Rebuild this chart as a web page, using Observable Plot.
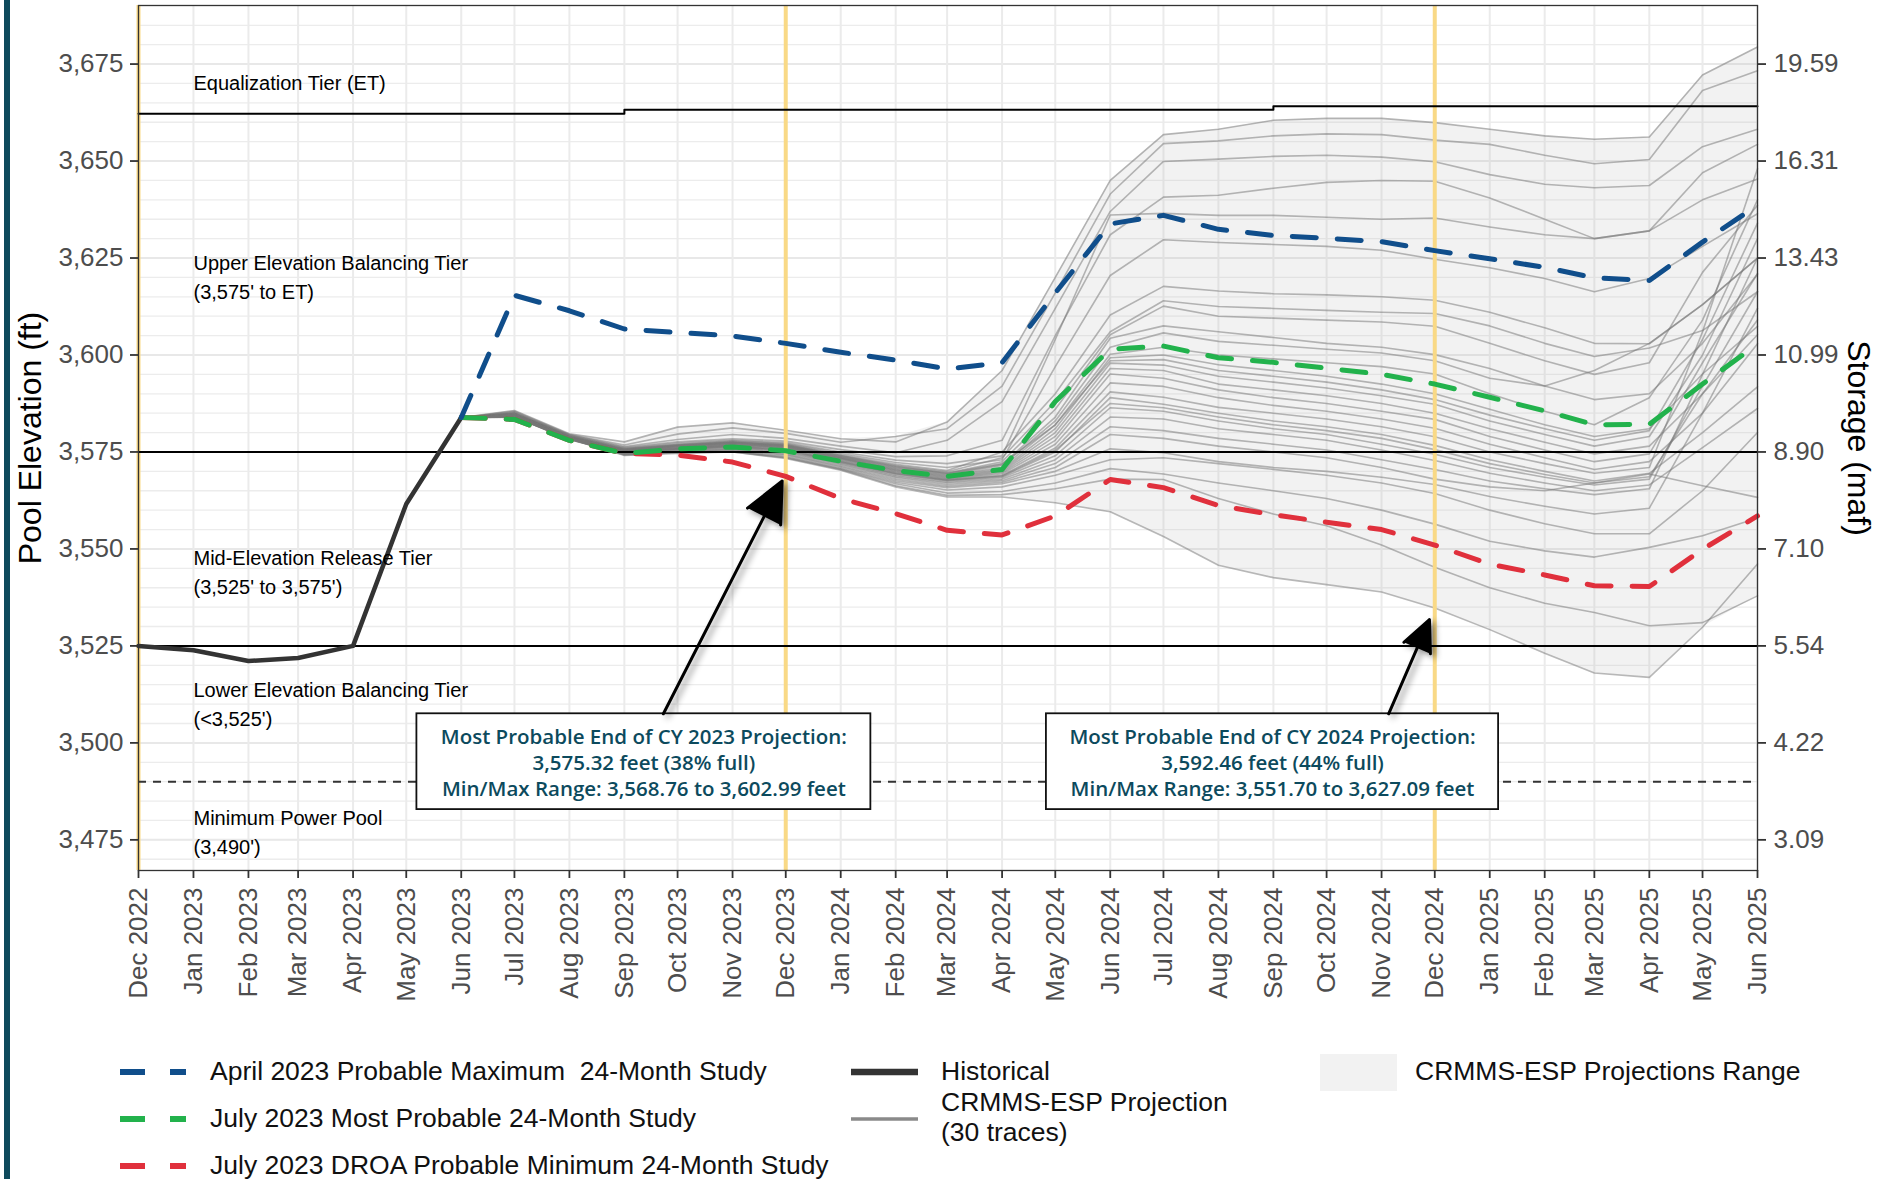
<!DOCTYPE html>
<html>
<head>
<meta charset="utf-8">
<script src="https://cdn.jsdelivr.net/npm/d3@7"></script>
<script src="https://cdn.jsdelivr.net/npm/@observablehq/plot@0.6"></script>
<style>
html, body { margin: 0; padding: 0; background: #fff; overflow: hidden; }
#wrap { position: relative; width: 1883px; height: 1179px; font-family: "Liberation Sans", Arial, sans-serif; }
#chart { position: absolute; left: 0; top: 0; }
#bar { position: absolute; left: 4px; top: 0; width: 6px; height: 1179px; background: #0e4a5c; }
.lg { position: absolute; font-size: 26.5px; color: #111; white-space: pre; transform: translateY(-50%); line-height: 1.12; }
.sw { position: absolute; }
</style>
</head>
<body>
<div id="wrap"><div id="chart"></div><div id="legend"></div><div id="bar"></div></div>
<script>
// ---------------- DATA ----------------
const monthKeys = ["2022-12","2023-01","2023-02","2023-03","2023-04","2023-05","2023-06","2023-07","2023-08","2023-09","2023-10","2023-11","2023-12","2024-01","2024-02","2024-03","2024-04","2024-05","2024-06","2024-07","2024-08","2024-09","2024-10","2024-11","2024-12","2025-01","2025-02","2025-03","2025-04","2025-05","2025-06"];

// Historical pool elevation, Dec 2022 - Jun 2023
const historical = [3525.0, 3523.9, 3521.1, 3521.9, 3525.0, 3561.6, 3583.9];

// Studies, Jun 2023 - Jun 2025
const aprilProbMax = [3583.9,3615.4,3611.4,3606.7,3605.8,3604.9,3603.0,3600.7,3598.7,3596.4,3598.0,3616.0,3633.8,3636.0,3632.4,3630.8,3630.1,3629.2,3626.9,3624.8,3622.6,3619.9,3619.2,3629.1,3638.6];
const julyMostProb = [3583.9,3583.4,3578.0,3574.6,3575.8,3576.3,3575.3,3572.6,3570.2,3568.7,3570.5,3588.0,3601.5,3602.3,3599.3,3598.1,3596.6,3595.0,3592.5,3589.1,3585.6,3582.0,3582.1,3592.5,3602.8];
const julyDroaMin = [3583.9,3583.4,3578.0,3574.6,3574.2,3572.4,3568.7,3563.0,3559.1,3554.8,3553.6,3558.5,3567.9,3565.8,3561.2,3558.8,3556.9,3555.0,3551.0,3546.1,3543.3,3540.5,3540.3,3549.9,3558.5];

// CRMMS-ESP projection traces (30), Jun 2023 - Jun 2025
const espTraces = [
[3583.9,3585.7,3579.7,3577.6,3581.4,3582.5,3580.6,3578.4,3577.6,3582.7,3596.0,3620.0,3645.0,3656.8,3658.2,3660.5,3661.0,3661.0,3659.9,3658.2,3656.5,3655.6,3656.2,3672.2,3679.4],
[3583.9,3585.5,3579.5,3576.8,3579.6,3581.2,3579.8,3577.5,3579.0,3581.0,3592.0,3616.0,3641.5,3654.5,3655.2,3656.5,3657.0,3656.8,3655.4,3654.3,3651.5,3649.3,3650.4,3668.2,3673.3],
[3583.9,3585.3,3579.4,3576.4,3578.2,3579.5,3578.5,3576.5,3574.8,3578.0,3588.0,3612.0,3637.0,3649.9,3650.5,3651.2,3651.5,3651.0,3649.8,3646.5,3644.0,3643.1,3643.7,3653.7,3658.2],
[3583.9,3585.2,3579.3,3576.2,3577.6,3578.4,3577.8,3575.6,3573.8,3574.0,3578.0,3605.0,3631.0,3640.7,3641.2,3643.0,3644.5,3645.0,3644.8,3640.5,3635.0,3630.0,3632.0,3647.0,3654.3],
[3583.9,3585.0,3579.2,3576.0,3577.3,3578.1,3577.4,3575.0,3572.9,3572.0,3574.0,3604.0,3636.1,3636.5,3636.0,3636.0,3635.5,3635.0,3635.3,3633.0,3631.0,3630.0,3632.0,3640.0,3645.4],
[3583.9,3585.0,3579.1,3575.9,3577.0,3577.9,3577.2,3574.6,3572.3,3571.0,3573.0,3597.0,3620.5,3629.7,3629.0,3628.5,3628.0,3627.0,3624.7,3622.5,3619.7,3616.3,3619.7,3628.0,3636.4],
[3583.9,3584.9,3579.0,3575.8,3576.9,3577.7,3577.0,3574.3,3571.8,3570.2,3575.0,3590.0,3610.3,3617.7,3616.5,3615.8,3615.5,3615.0,3614.1,3611.0,3607.0,3603.0,3602.9,3613.0,3625.0],
[3583.9,3584.9,3579.0,3575.7,3576.8,3577.6,3576.9,3574.1,3571.5,3569.9,3573.5,3588.0,3606.0,3614.0,3612.5,3612.0,3611.5,3611.0,3610.7,3607.5,3603.0,3599.6,3601.8,3606.3,3616.3],
[3583.9,3584.8,3578.9,3575.6,3576.7,3577.5,3576.7,3573.9,3571.2,3569.6,3572.5,3586.0,3605.2,3612.6,3610.0,3609.5,3609.0,3608.5,3607.4,3603.0,3598.5,3595.0,3598.0,3621.3,3638.6],
[3583.9,3584.8,3578.9,3575.5,3576.6,3577.4,3576.6,3573.7,3571.0,3569.4,3571.8,3584.0,3604.3,3607.5,3606.0,3604.5,3603.0,3602.0,3600.1,3596.5,3592.0,3588.5,3590.0,3603.0,3620.8],
[3583.9,3584.7,3578.8,3575.5,3576.5,3577.3,3576.5,3573.6,3570.8,3569.2,3571.5,3583.0,3602.0,3605.7,3603.5,3602.5,3601.5,3600.5,3598.5,3594.0,3592.0,3596.0,3603.0,3613.0,3625.0],
[3583.9,3584.7,3578.8,3575.4,3576.4,3577.2,3576.4,3573.5,3570.6,3569.0,3571.0,3582.0,3600.2,3602.0,3600.0,3599.0,3598.0,3597.0,3595.1,3590.0,3585.5,3582.0,3589.0,3609.0,3640.0],
[3583.9,3584.6,3578.7,3575.4,3576.3,3577.1,3576.3,3573.4,3570.4,3568.8,3570.6,3581.0,3599.3,3600.0,3597.5,3596.0,3594.5,3592.5,3590.0,3586.0,3582.0,3579.0,3581.0,3595.1,3607.4],
[3583.9,3584.6,3578.7,3575.3,3576.2,3577.0,3576.2,3573.3,3570.3,3568.6,3570.3,3580.0,3597.9,3597.4,3594.5,3593.0,3591.5,3589.5,3587.3,3583.0,3579.5,3576.5,3579.0,3600.0,3630.0],
[3583.9,3584.5,3578.6,3575.3,3576.1,3576.9,3576.1,3573.2,3570.1,3568.4,3570.0,3579.0,3596.5,3596.0,3592.5,3591.0,3589.5,3587.5,3585.0,3581.0,3577.5,3574.5,3576.5,3590.0,3605.2],
[3583.9,3584.5,3578.6,3575.2,3576.0,3576.8,3576.0,3573.0,3569.9,3568.2,3569.7,3578.0,3595.1,3594.0,3591.0,3589.0,3587.5,3585.5,3583.4,3579.0,3575.5,3572.5,3574.5,3598.0,3621.0],
[3583.9,3584.4,3578.5,3575.1,3575.9,3576.7,3575.8,3572.8,3569.7,3568.0,3569.4,3577.0,3592.8,3591.9,3589.0,3587.0,3585.5,3583.5,3581.1,3577.0,3573.5,3570.5,3572.5,3585.0,3602.9],
[3583.9,3584.4,3578.5,3575.0,3575.8,3576.5,3575.6,3572.6,3569.5,3567.8,3569.0,3576.0,3590.5,3589.1,3586.5,3585.0,3583.5,3581.5,3578.9,3575.0,3572.0,3569.5,3571.0,3606.0,3648.0],
[3583.9,3584.3,3578.4,3575.0,3575.7,3576.4,3575.4,3572.4,3569.3,3567.6,3568.7,3575.0,3589.0,3587.3,3585.0,3583.0,3581.5,3579.5,3576.7,3573.0,3570.0,3567.5,3569.5,3580.0,3591.8],
[3583.9,3584.3,3578.4,3574.9,3575.6,3576.2,3575.2,3572.2,3569.0,3567.3,3568.4,3574.0,3586.4,3585.5,3583.0,3581.0,3579.5,3577.0,3574.4,3571.0,3568.5,3566.5,3568.0,3592.0,3616.3],
[3583.9,3584.2,3578.4,3574.8,3575.5,3576.0,3575.0,3572.0,3568.7,3567.0,3568.0,3573.0,3584.0,3583.5,3581.0,3579.5,3578.0,3575.5,3572.8,3569.5,3567.0,3565.0,3566.5,3576.1,3586.2],
[3583.9,3584.2,3578.3,3574.7,3575.3,3575.8,3574.7,3571.7,3568.4,3566.6,3567.6,3572.0,3581.5,3580.5,3578.5,3577.0,3575.5,3573.0,3570.5,3567.5,3565.5,3564.0,3565.5,3595.0,3625.0],
[3583.9,3584.1,3578.3,3574.6,3575.2,3575.6,3574.4,3571.4,3568.0,3566.2,3567.2,3571.0,3579.5,3578.5,3576.5,3575.0,3573.5,3571.0,3568.0,3566.0,3565.0,3567.0,3569.3,3566.3,3563.3],
[3583.9,3584.1,3578.2,3574.5,3575.1,3575.4,3574.2,3571.1,3567.6,3565.8,3566.8,3570.0,3575.8,3574.8,3572.5,3571.0,3570.0,3568.5,3566.6,3563.5,3561.0,3559.0,3560.5,3585.0,3612.0],
[3583.9,3584.0,3578.2,3574.4,3575.0,3575.2,3573.9,3570.8,3567.2,3565.2,3566.0,3569.0,3573.0,3573.5,3572.0,3570.5,3569.0,3567.0,3564.3,3560.0,3556.5,3553.9,3553.9,3565.0,3580.0],
[3583.9,3584.0,3578.5,3574.3,3574.9,3575.1,3573.6,3570.6,3566.8,3564.4,3564.8,3567.0,3570.7,3569.3,3567.0,3565.0,3563.0,3560.0,3556.4,3552.0,3549.5,3547.9,3550.4,3553.4,3558.0],
[3583.9,3584.0,3578.4,3574.2,3574.8,3575.0,3573.5,3570.5,3566.3,3563.8,3564.0,3565.5,3568.0,3567.9,3563.0,3559.0,3556.0,3551.0,3545.3,3540.0,3536.0,3533.6,3530.2,3531.0,3537.9],
[3583.9,3584.0,3578.4,3574.1,3574.6,3575.0,3573.3,3570.3,3566.0,3563.4,3563.4,3561.9,3559.6,3553.2,3545.8,3542.6,3540.8,3538.9,3534.8,3529.2,3523.1,3518.0,3516.9,3529.8,3546.1],
[3583.9,3584.6,3578.7,3575.6,3576.6,3577.4,3576.8,3574.0,3571.3,3569.5,3572.0,3582.0,3598.5,3598.8,3596.0,3594.5,3593.0,3591.0,3588.5,3584.5,3581.0,3578.0,3580.5,3604.0,3634.0],
[3583.9,3584.3,3578.5,3575.1,3575.8,3576.5,3575.5,3572.5,3569.4,3567.7,3568.8,3575.5,3587.5,3586.4,3584.0,3582.0,3580.5,3578.5,3575.6,3572.0,3569.2,3567.0,3568.6,3590.0,3609.0]
];

// Axis ticks
const elevTicks = [3475, 3500, 3525, 3550, 3575, 3600, 3625, 3650, 3675];
const storageLabels = ["3.09", "4.22", "5.54", "7.10", "8.90", "10.99", "13.43", "16.31", "19.59"];

// Operating tiers
const tierLineElev = [3575, 3525];
const minPowerPoolElev = [3490];
const etStepMonths = ["2022-12", "2023-09", "2024-09", "2025-06"];
const etStepElev = [3662.2, 3663.2, 3664.1, 3664.1];
const tierLabelText = ["Equalization Tier (ET)", "Upper Elevation Balancing Tier", "(3,575' to ET)", "Mid-Elevation Release Tier", "(3,525' to 3,575')", "Lower Elevation Balancing Tier", "(<3,525')", "Minimum Power Pool", "(3,490')"];
const tierLabelElev = [3670.0, 3623.6, 3616.1, 3547.5, 3540.0, 3513.6, 3505.9, 3480.4, 3473.1];
const tierLabelMonth = "2023-01";

// End of calendar year markers
const calendarYearEnds = ["2022-12", "2023-12", "2024-12"];

// Annotations
const annoText = [
  "Most Probable End of CY 2023 Projection:\n3,575.32 feet (38% full)\nMin/Max Range: 3,568.76 to 3,602.99 feet",
  "Most Probable End of CY 2024 Projection:\n3,592.46 feet (44% full)\nMin/Max Range: 3,551.70 to 3,627.09 feet"
];
const annoBoxStart = ["2023-05-07", "2024-04-26"];
const annoBoxEnd = ["2024-01-18", "2025-01-06"];
const annoBoxLow = 3482.8, annoBoxHigh = 3507.5;
const arrowFrom = [["2023-09-23", 3507.5], ["2024-11-05", 3507.5]];
const arrowTo = [["2023-11-29", 3567.5], ["2024-11-28", 3531.8]];

// Legend
const studyLabels = ["April 2023 Probable Maximum  24-Month Study", "July 2023 Most Probable 24-Month Study", "July 2023 DROA Probable Minimum 24-Month Study"];
const studyColors = ["#104e8b", "#22b24c", "#e0303c"];
const traceLegendLabels = ["Historical", "CRMMS-ESP Projection\n(30 traces)"];
const rangeLegendLabel = "CRMMS-ESP Projections Range";

// ---------------- BUILD ----------------
const pm = d3.utcParse("%Y-%m");
const pd = d3.utcParse("%Y-%m-%d");
const monthDates = monthKeys.map(pm);
const projDates = monthDates.slice(6);

const histRows = historical.map((v, i) => ({date: monthDates[i], value: v}));
const studyRows = [aprilProbMax, julyMostProb, julyDroaMin].map(s => s.map((v, i) => ({date: projDates[i], value: v})));
const traceRows = espTraces.flatMap((t, k) => t.map((v, i) => ({trace: k, date: projDates[i], value: v})));
const rangeRows = projDates.map((d, i) => ({date: d, lo: d3.min(espTraces, t => t[i]), hi: d3.max(espTraces, t => t[i])}));
const etRows = etStepMonths.map((m, i) => ({date: pm(m), value: etStepElev[i]}));
const tierLabels = tierLabelText.map((t, i) => ({text: t, date: pm(tierLabelMonth), value: tierLabelElev[i]}));
const annos = annoText.map((t, i) => {
  const a = pd(annoBoxStart[i]), b = pd(annoBoxEnd[i]);
  return {text: t, x1: a, x2: b, xm: new Date((+a + +b) / 2), y1: annoBoxLow, y2: annoBoxHigh, ym: (annoBoxLow + annoBoxHigh) / 2};
});
const arrows = arrowFrom.map((f, i) => ({x1: pd(f[0]), y1: f[1], x2: pd(arrowTo[i][0]), y2: arrowTo[i][1]}));
const minorGrid = d3.range(3470, 3690, 5);
const fmtMonth = d3.utcFormat("%b %Y");

const dash = "24,21";
const chart = Plot.plot({
  width: 1883,
  height: 1030,
  marginLeft: 138,
  marginRight: 126,
  marginTop: 5,
  marginBottom: 160,
  style: {fontFamily: '"Liberation Sans", Arial, sans-serif', background: "white", overflow: "visible"},
  x: {type: "utc", domain: [monthDates[0], monthDates[monthDates.length - 1]]},
  y: {domain: [3467.1, 3690.1]},
  marks: [
    Plot.ruleY(minorGrid, {stroke: "#ececec", strokeWidth: 1.3}),
    Plot.ruleY(elevTicks, {stroke: "#e8e8e8", strokeWidth: 2}),
    Plot.ruleX(monthDates, {stroke: "#ebebeb", strokeWidth: 2}),
    Plot.areaY(rangeRows, {x: "date", y1: "lo", y2: "hi", fill: "#b8b8b8", fillOpacity: 0.18}),
    Plot.line(traceRows, {x: "date", y: "value", z: "trace", stroke: "#777", strokeOpacity: 0.52, strokeWidth: 1.6}),
    Plot.ruleX(calendarYearEnds.map(pm), {stroke: "#f9d986", strokeWidth: 4}),
    Plot.ruleY(tierLineElev, {stroke: "#000", strokeWidth: 2}),
    Plot.ruleY(minPowerPoolElev, {stroke: "#333", strokeWidth: 2, strokeDasharray: "8,7"}),
    Plot.line(etRows, {x: "date", y: "value", curve: "step-after", stroke: "#000", strokeWidth: 2}),
    Plot.line(histRows, {x: "date", y: "value", stroke: "#333", strokeWidth: 4.5}),
    Plot.line(studyRows[2], {x: "date", y: "value", stroke: studyColors[2], strokeWidth: 5, strokeDasharray: dash}),
    Plot.line(studyRows[1], {x: "date", y: "value", stroke: studyColors[1], strokeWidth: 5, strokeDasharray: dash}),
    Plot.line(studyRows[0], {x: "date", y: "value", stroke: studyColors[0], strokeWidth: 5, strokeDasharray: dash}),
    Plot.text(tierLabels, {x: "date", y: "value", text: "text", textAnchor: "start", fontSize: 20, fill: "#000"}),
    Plot.rect(annos, {x1: "x1", x2: "x2", y1: "y1", y2: "y2", fill: "white", stroke: "#111", strokeWidth: 1.8}),
    Plot.text(annos, {x: "xm", y: "ym", text: "text", fill: "#0c4a5d", fontSize: 20.5, fontWeight: 600, fontFamily: '"Open Sans", "Noto Sans", sans-serif', lineHeight: 1.27}),
    Plot.arrow(arrows, {x1: "x1", y1: "y1", x2: "x2", y2: "y2", stroke: "#000", strokeWidth: 3, headLength: 22, headAngle: 50}),
    Plot.frame({stroke: "#333", strokeWidth: 1.3}),
    Plot.axisY(elevTicks, {anchor: "left", tickSize: 8, tickPadding: 7, tickFormat: d3.format(","), fontSize: 26, stroke: "#333", fill: "#4d4d4d", strokeWidth: 1.8, label: null}),
    Plot.axisY(elevTicks, {anchor: "right", tickSize: 8, tickPadding: 8, tickFormat: d => storageLabels[elevTicks.indexOf(d)], fontSize: 26, stroke: "#333", fill: "#4d4d4d", strokeWidth: 1.8, label: null}),
    Plot.axisX(monthDates, {anchor: "bottom", tickSize: 8, tickPadding: 9, tickRotate: -90, tickFormat: fmtMonth, fontSize: 26, stroke: "#333", fill: "#4d4d4d", strokeWidth: 1.8, label: null}),
    Plot.text(["Pool Elevation (ft)"], {frameAnchor: "left", textAnchor: "middle", rotate: -90, dx: -108, fontSize: 32, fill: "#000"}),
    Plot.text(["Storage (maf)"], {frameAnchor: "right", textAnchor: "middle", rotate: 90, dx: 101, fontSize: 32, fill: "#000"})
  ]
});
chart.querySelectorAll('g[aria-label="arrow"]').forEach(g => {
  g.style.filter = "drop-shadow(4px 3px 3px rgba(0,0,0,0.45))";
  g.querySelectorAll("path").forEach(p => p.setAttribute("fill", "#000"));
});
document.getElementById("chart").appendChild(chart);

// ---------------- LEGEND ----------------
const legend = document.getElementById("legend");
const rowY = [1072, 1119, 1166];
function swatchLine(x, y, w, color, width, dasharray) {
  const s = document.createElementNS("http://www.w3.org/2000/svg", "svg");
  s.setAttribute("class", "sw");
  s.setAttribute("width", w);
  s.setAttribute("height", 14);
  s.style.left = x + "px";
  s.style.top = (y - 7) + "px";
  s.innerHTML = `<line x1="0" x2="${w}" y1="7" y2="7" stroke="${color}" stroke-width="${width}" ${dasharray ? `stroke-dasharray="${dasharray}"` : ""}/>`;
  legend.appendChild(s);
}
function label(x, y, text) {
  const d = document.createElement("div");
  d.className = "lg";
  d.style.left = x + "px";
  d.style.top = y + "px";
  d.textContent = text;
  legend.appendChild(d);
}
studyLabels.forEach((t, i) => {
  swatchLine(120, rowY[i], 66, studyColors[i], 6, "25,25");
  label(210, rowY[i], t);
});
swatchLine(851, rowY[0], 67, "#333", 6.5, null);
label(941, rowY[0], traceLegendLabels[0]);
swatchLine(851, rowY[1], 67, "#8a8a8a", 3.5, null);
label(941, rowY[1] - 1, traceLegendLabels[1]);
const rb = document.createElement("div");
rb.className = "sw";
Object.assign(rb.style, {left: "1320px", top: "1054px", width: "77px", height: "37px", background: "#f2f2f2"});
legend.appendChild(rb);
label(1415, rowY[0], rangeLegendLabel);
</script>
</body>
</html>
